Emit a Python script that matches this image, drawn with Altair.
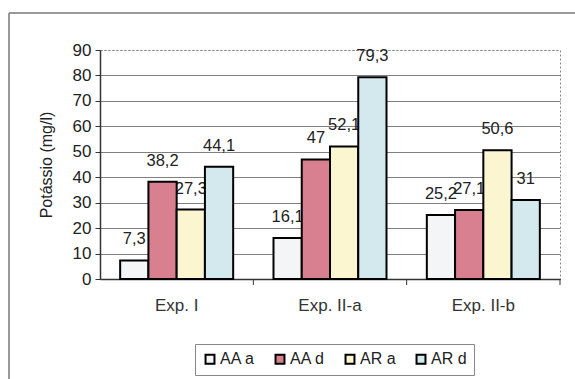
import altair as alt
import pandas as pd

# ---- data ----
groups = ["Exp. I", "Exp. II-a", "Exp. II-b"]
series = ["AA a", "AA d", "AR a", "AR d"]
aa_a = [7.3, 16.1, 25.2]
aa_d = [38.2, 47, 27.1]
ar_a = [27.3, 52.1, 50.6]
ar_d = [44.1, 79.3, 31]
y_ticks = [0, 10, 20, 30, 40, 50, 60, 70, 80, 90]

fills = ["#f3f5f7", "#d8808f", "#fbf6cf", "#d3e9ee"]

rows = []
for s, vals in zip(series, [aa_a, aa_d, ar_a, ar_d]):
    for g, v in zip(groups, vals):
        rows.append({"grupo": g, "serie": s, "valor": v,
                     "rotulo": f"{v:g}".replace(".", ",")})
df = pd.DataFrame(rows)

FONT = "Liberation Sans"
PI, PO = 0.263, 0.1315
W, H = 460, 229

x_axis = alt.Axis(labelAngle=0, labelFontSize=17, labelFont=FONT,
                  labelColor="#333", ticks=False, labelPadding=18,
                  domainColor="#333", domainWidth=1.5, grid=False)
x_scale = alt.Scale(paddingInner=PI, paddingOuter=PO)
x_enc = alt.X("grupo:N", sort=groups, title=None, scale=x_scale, axis=x_axis)
xo_enc = alt.XOffset("serie:N", sort=series,
                     scale=alt.Scale(paddingInner=0, paddingOuter=0))
y_enc = alt.Y("valor:Q", title="Potássio (mg/l)",
              scale=alt.Scale(domain=[0, 90], nice=False),
              axis=alt.Axis(values=y_ticks, labelFontSize=17, labelFont=FONT,
                            labelColor="#222", tickSize=5, tickColor="#333",
                            labelPadding=4, domainColor="#333", domainWidth=1.5,
                            gridColor="#808080", gridWidth=1,
                            gridDash=alt.condition("datum.value == 90",
                                                   alt.value([2, 2]), alt.value([])),
                            titleFont=FONT, titleFontSize=16, titleFontWeight="normal",
                            titleColor="#222", titleAngle=270, titleX=-54,
                            titleY=114.5, titleAlign="center",
                            titleBaseline="middle"))

base = alt.Chart(df)

labels = base.mark_text(dy=-21, fontSize=16.5, font=FONT, color="#222",
                        baseline="middle").encode(
    x=x_enc, xOffset=xo_enc, y=y_enc, text="rotulo:N")

bars = base.mark_bar(stroke="black", strokeWidth=2).encode(
    x=x_enc, xOffset=xo_enc, y=y_enc,
    color=alt.Color("serie:N", sort=series,
                    scale=alt.Scale(domain=series, range=fills),
                    legend=alt.Legend(title=None, orient="none", legendX=95,
                                      legendY=294, direction="horizontal",
                                      symbolType="square", symbolSize=80,
                                      symbolStrokeWidth=2,
                                      symbolStrokeColor="black",
                                      labelFontSize=16, labelFont=FONT,
                                      labelColor="#222", labelOffset=2,
                                      columnPadding=16, padding=7,
                                      strokeColor="#888")))

# category-boundary tick marks (Excel style), at the right edge of each category
ticks = alt.Chart(pd.DataFrame({"grupo": groups})).mark_rule(
    color="#333", strokeWidth=1, xOffset=PO * W / 3).encode(
    x=alt.X("grupo:N", sort=groups, title=None, scale=x_scale, axis=x_axis,
            bandPosition=1),
    y=alt.value(H), y2=alt.value(H + 6))

dummy = pd.DataFrame({"k": [0]})
frame_left = alt.Chart(dummy).mark_rule(color="#777", strokeWidth=1.5).encode(
    x=alt.value(-91), y=alt.value(-37), y2=alt.value(329))
frame_top = alt.Chart(dummy).mark_rule(color="#777", strokeWidth=1.5).encode(
    x=alt.value(-91), x2=alt.value(475), y=alt.value(-37))

chart = alt.layer(labels, bars, ticks, frame_left, frame_top).properties(
    width=W, height=H,
    autosize=alt.AutoSizeParams(type="none"),
    padding={"left": 100, "top": 50, "right": 15, "bottom": 100},
    background="white",
).configure_view(stroke="#888", strokeDash=[2, 2], strokeWidth=1)

chart.save("out.html", embed_options={"renderer": "svg", "actions": False})
